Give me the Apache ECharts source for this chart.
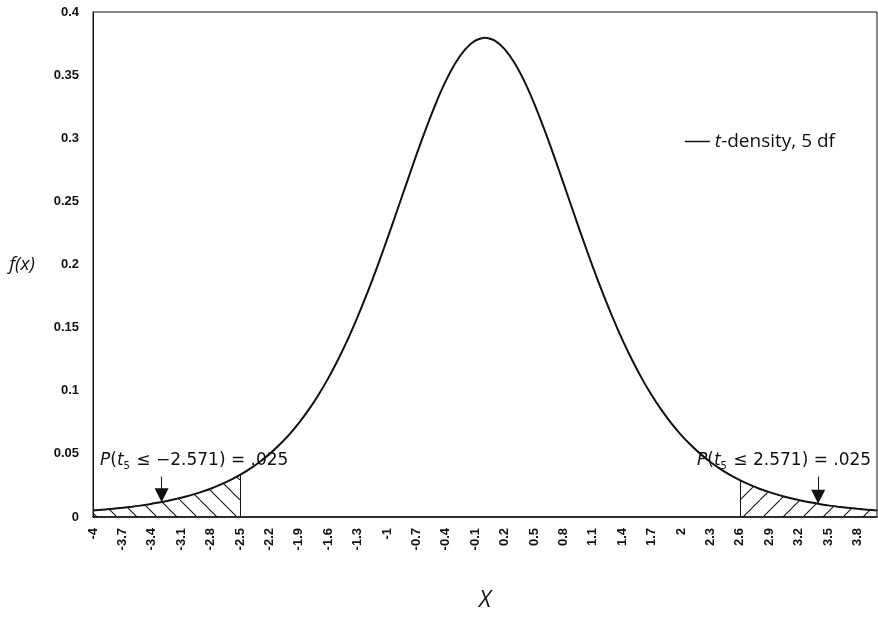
<!DOCTYPE html>
<html>
<head>
<meta charset="utf-8">
<script src="https://cdn.jsdelivr.net/npm/echarts@6/dist/echarts.min.js"></script>
<style>
  html, body { margin: 0; padding: 0; background: #fff; }
  #chart { width: 878px; height: 628px; }
</style>
</head>
<body>
<div id="chart"></div>
<script>
// x grid of the t-density curve (step 0.1)
const xCats = ['-4','-3.9','-3.8','-3.7','-3.6','-3.5','-3.4','-3.3','-3.2','-3.1',
  '-3','-2.9','-2.8','-2.7','-2.6','-2.5','-2.4','-2.3','-2.2','-2.1',
  '-2','-1.9','-1.8','-1.7','-1.6','-1.5','-1.4','-1.3','-1.2','-1.1',
  '-1','-0.9','-0.8','-0.7','-0.6','-0.5','-0.4','-0.3','-0.2','-0.1',
  '0','0.1','0.2','0.3','0.4','0.5','0.6','0.7','0.8','0.9',
  '1','1.1','1.2','1.3','1.4','1.5','1.6','1.7','1.8','1.9',
  '2','2.1','2.2','2.3','2.4','2.5','2.6','2.7','2.8','2.9',
  '3','3.1','3.2','3.3','3.4','3.5','3.6','3.7','3.8','3.9','4'];

// f(x) for the t distribution with 5 degrees of freedom
const density = [0.0051,0.0058,0.0065,0.0073,0.0082,0.0092,0.0105,0.0118,0.0134,0.0152,
  0.0173,0.0197,0.0224,0.0256,0.0292,0.0333,0.0381,0.0436,0.0498,0.0570,
  0.0651,0.0743,0.0848,0.0966,0.1098,0.1245,0.1407,0.1585,0.1777,0.1981,
  0.2197,0.2420,0.2645,0.2868,0.3081,0.3279,0.3454,0.3598,0.3706,0.3773,
  0.3796,0.3773,0.3706,0.3598,0.3454,0.3279,0.3081,0.2868,0.2645,0.2420,
  0.2197,0.1981,0.1777,0.1585,0.1407,0.1245,0.1098,0.0966,0.0848,0.0743,
  0.0651,0.0570,0.0498,0.0436,0.0381,0.0333,0.0292,0.0256,0.0224,0.0197,
  0.0173,0.0152,0.0134,0.0118,0.0105,0.0092,0.0082,0.0073,0.0065,0.0058,0.0051];

// shaded tails: lower tail up to -2.5, upper tail from 2.6
const lowerTailEnd = '-2.5';
const upperTailStart = '2.6';
// where the probability arrows point
const lowerArrowAt = '-3.3';
const upperArrowAt = '3.4';

const yTicks = [0, 0.05, 0.1, 0.15, 0.2, 0.25, 0.3, 0.35, 0.4];

function hatch(dir) {
  const s = 20;
  const c = document.createElement('canvas');
  c.width = s; c.height = s;
  const g = c.getContext('2d');
  g.strokeStyle = '#111';
  g.lineWidth = 1.1;
  g.beginPath();
  if (dir === 'back') { g.moveTo(-2, -2); g.lineTo(s + 2, s + 2); }
  else { g.moveTo(-2, s + 2); g.lineTo(s + 2, -2); }
  g.stroke();
  return { image: c, repeat: 'repeat' };
}

const iLow = xCats.indexOf(lowerTailEnd);
const iHigh = xCats.indexOf(upperTailStart);
const lowerTail = density.map((v, i) => (i <= iLow ? v : '-'));
const upperTail = density.map((v, i) => (i >= iHigh ? v : '-'));
const iLA = xCats.indexOf(lowerArrowAt);
const iUA = xCats.indexOf(upperArrowAt);

const edgeLine = {
  silent: true,
  symbol: 'none',
  label: { show: false },
  lineStyle: { color: '#111', width: 1, type: 'solid' },
  animation: false
};

const noteRich = {
  p: { fontStyle: 'italic', fontSize: 17, fontFamily: 'DejaVu Sans', fill: '#111' },
  n: { fontSize: 17, fontFamily: 'DejaVu Sans', fill: '#111' },
  s: { fontSize: 10, fontFamily: 'DejaVu Sans', fill: '#111', padding: [11, 1, 0, 0] }
};

const chart = echarts.init(document.getElementById('chart'), null, { renderer: 'canvas' });
chart.setOption({
  animation: false,
  backgroundColor: '#fff',
  grid: { left: 93, right: 1, top: 12, bottom: 111, show: true, borderColor: '#111', borderWidth: 1 },
  legend: {
    right: 38, top: 127,
    icon: 'rect', itemWidth: 25, itemHeight: 1.5, itemGap: 6,
    data: ['t-density, 5 df'],
    formatter: () => '{i|t}{n|-density, 5 df}',
    textStyle: {
      rich: {
        i: { fontStyle: 'italic', fontSize: 19, fontFamily: 'Open Sans', color: '#111' },
        n: { fontSize: 19, fontFamily: 'Open Sans', color: '#111' }
      }
    }
  },
  xAxis: {
    type: 'category',
    data: xCats,
    boundaryGap: false,
    name: 'X',
    nameLocation: 'middle',
    nameGap: 72,
    nameTextStyle: { fontStyle: 'italic', fontSize: 23, fontFamily: 'Open Sans', color: '#111' },
    axisLine: { lineStyle: { color: '#111', width: 1.5 } },
    axisTick: { show: false },
    axisLabel: {
      interval: 2, rotate: 90, fontSize: 13, fontWeight: 'bold',
      fontFamily: 'Liberation Sans', color: '#111', margin: 11
    },
    splitLine: { show: false }
  },
  yAxis: {
    type: 'value',
    min: yTicks[0], max: yTicks[yTicks.length - 1], interval: 0.05,
    name: 'f(x)',
    nameLocation: 'middle',
    nameRotate: 0,
    nameGap: 58,
    nameTextStyle: { fontStyle: 'italic', fontSize: 19, fontFamily: 'Open Sans', color: '#111' },
    axisLine: { show: true, lineStyle: { color: '#111', width: 1 } },
    axisTick: { show: false },
    axisLabel: {
      fontSize: 13, fontWeight: 'bold', fontFamily: 'Liberation Sans', color: '#111', margin: 14,
      formatter: v => String(+v.toFixed(2))
    },
    splitLine: { show: false }
  },
  graphic: [
    {
      type: 'text', left: 100, top: 452,
      style: { text: '{p|P}{n|(}{p|t}{s|5}{n| ≤ −2.571) = .025}', rich: noteRich }
    },
    {
      type: 'text', left: 697, top: 452,
      style: { text: '{p|P}{n|(}{p|t}{s|5}{n| ≤ 2.571) = .025}', rich: noteRich }
    }
  ],
  series: [
    {
      name: 'lower tail',
      type: 'line',
      data: lowerTail,
      showSymbol: false,
      silent: true,
      lineStyle: { width: 0 },
      areaStyle: { color: hatch('back'), opacity: 1 },
      markLine: Object.assign({}, edgeLine, {
        data: [[{ coord: [lowerTailEnd, 0] }, { coord: [lowerTailEnd, density[iLow]] }]]
      })
    },
    {
      name: 'upper tail',
      type: 'line',
      data: upperTail,
      showSymbol: false,
      silent: true,
      lineStyle: { width: 0 },
      areaStyle: { color: hatch('fwd'), opacity: 1 },
      markLine: Object.assign({}, edgeLine, {
        data: [[{ coord: [upperTailStart, 0] }, { coord: [upperTailStart, density[iHigh]] }]]
      })
    },
    {
      name: 't-density, 5 df',
      type: 'line',
      data: density,
      showSymbol: false,
      smooth: 0.2,
      color: '#111',
      lineStyle: { color: '#111', width: 2 },
      markLine: {
        silent: true,
        symbol: ['none', 'triangle'],
        symbolSize: 14,
        label: { show: false },
        lineStyle: { color: '#111', width: 1, type: 'solid' },
        data: [
          [{ coord: [lowerArrowAt, 0.032] }, { coord: [lowerArrowAt, density[iLA] + 0.0055] }],
          [{ coord: [upperArrowAt, 0.032] }, { coord: [upperArrowAt, density[iUA] + 0.0055] }]
        ]
      }
    }
  ]
});
</script>
</body>
</html>
